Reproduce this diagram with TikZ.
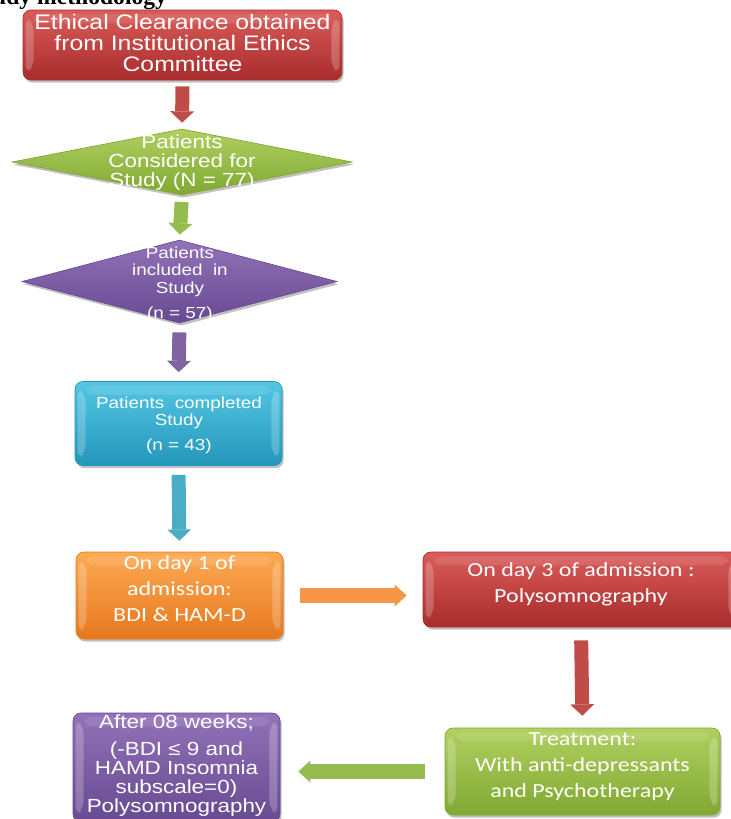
\documentclass[tikz,border=0pt]{standalone}
\usepackage{fontspec}
\newfontfamily\arialf[FakeStretch=1.18]{Liberation Sans}
\newfontfamily\calf[FakeStretch=1.2]{Carlito}
\newfontfamily\headf{Liberation Serif}
\usetikzlibrary{shapes.geometric,arrows.meta,shadows,calc}

\definecolor{redL}{RGB}{218,92,90}
\definecolor{redD}{RGB}{168,44,44}
\definecolor{redA}{RGB}{192,76,74}
\definecolor{grnL}{RGB}{176,208,96}
\definecolor{grnD}{RGB}{128,168,50}
\definecolor{grnA}{RGB}{150,188,80}
\definecolor{purL}{RGB}{146,114,184}
\definecolor{purD}{RGB}{104,74,146}
\definecolor{purA}{RGB}{128,100,162}
\definecolor{cyaL}{RGB}{84,198,228}
\definecolor{cyaD}{RGB}{36,150,186}
\definecolor{cyaA}{RGB}{75,172,198}
\definecolor{orgL}{RGB}{252,170,84}
\definecolor{orgD}{RGB}{230,120,30}
\definecolor{orgA}{RGB}{247,150,70}

\begin{document}
\begin{tikzpicture}[x=0.75pt,y=-0.75pt,
  shd/.style={drop shadow={shadow xshift=1.2pt,shadow yshift=-2pt,opacity=0.35,fill=black!70}},
  bevel/.style={path picture={
     \coordinate (pnw) at (path picture bounding box.north west);
     \coordinate (pse) at (path picture bounding box.south east);
     \fill[white,opacity=0.22] ($(pnw)+(2pt,-5pt)$) -- ($(pnw)+(8pt,-10pt)$)
        -- ($(pnw |- pse)+(8pt,10pt)$) -- ($(pnw |- pse)+(2pt,5pt)$) -- cycle;
     \fill[white,opacity=0.22] ($(pse |- pnw)+(-2pt,-5pt)$) -- ($(pse |- pnw)+(-8pt,-10pt)$)
        -- ($(pse)+(-8pt,10pt)$) -- ($(pse)+(-2pt,5pt)$) -- cycle;
     \fill[white,opacity=0.10] ($(pnw)+(8pt,-3pt)$) -- ($(pse |- pnw)+(-8pt,-3pt)$)
        -- ($(pse |- pnw)+(-8pt,-10pt)$) -- ($(pnw)+(8pt,-10pt)$) -- cycle;}},
  box/.style n args={3}{rectangle, rounded corners=6pt, inner sep=0pt,
     top color=#1, bottom color=#2, draw=#3, line width=0.5pt, shd, bevel},
  dia/.style n args={3}{diamond, inner sep=0pt,
     top color=#1, bottom color=#2, draw=#3, line width=0.5pt, shd},
  txta/.style={text=white, align=center, font=\arialf\fontsize{#1}{#1}\selectfont},
  txtc/.style={text=white, align=center, font=\calf\fontsize{15pt}{19.5pt}\selectfont},
  blk/.style={line width=10.5pt, draw=#1,
     -{Triangle[width=18pt,length=8.5pt,line width=0pt,fill=#1]}},
  blkh/.style={line width=11pt, draw=#1,
     -{Triangle[width=16.5pt,length=9pt,line width=0pt,fill=#1]}}
]
\useasboundingbox (0,0) rectangle (731,819);
\clip (0,0) rectangle (731,819);
\fill[white] (0,0) rectangle (731,819);

% heading (cut off at the top)
\node[anchor=base west, inner sep=0pt, font=\headf\bfseries\fontsize{17.7pt}{20pt}\selectfont] (head) at (-28,4) {Study methodology};

% shapes
\node[box={redL}{redD}{redD}, minimum width=239.25pt, minimum height=52.5pt] (ethics) at (182.5,45) {};
\node[dia={grnL}{grnD}{grnD}, minimum width=255pt, minimum height=49.5pt] (considered) at (182,162) {};
\node[dia={purL}{purD}{purD}, minimum width=236.25pt, minimum height=62.25pt] (included) at (179.5,281.5) {};
\node[box={cyaL}{cyaD}{cyaD}, minimum width=155.25pt, minimum height=63pt] (completed) at (178.5,423.5) {};
\node[box={orgL}{orgD}{orgD}, minimum width=155.25pt, minimum height=65.25pt] (day1) at (179.5,595.5) {};
\node[box={redL}{redD}{redD}, minimum width=237pt, minimum height=56.25pt] (day3) at (581,589.5) {};
\node[box={grnL}{grnD}{grnD}, minimum width=206.25pt, minimum height=65.25pt] (treat) at (582.5,771.5) {};
\node[box={purL}{purD}{purD}, minimum width=155.25pt, minimum height=81.75pt] (after) at (176.5,767.5) {};

% texts
\node[txta={15.75pt}] (ethics-t) at (182.5,42.5) {Ethical Clearance obtained\\from Institutional Ethics\\Committee};
\node[txta={14.25pt}] (considered-t) at (182,162.2) {Patients\\Considered for\\Study (N = 77)};
\node[txta={12pt}, font=\arialf\fontsize{12pt}{13.1pt}\selectfont] (included-t) at (180,284) {Patients\\included\ \ in\\Study\\[5.6pt](n = 57)};
\node[txta={12pt}, font=\arialf\fontsize{12pt}{12.75pt}\selectfont] (completed-t) at (179,425) {Patients\ \ completed\\Study\\[6pt](n = 43)};
\node[txtc] (day1-t) at (179.5,588.5) {On day 1 of\\admission:\\BDI \& HAM-D};
\node[txtc] (day3-t) at (581,584) {On day 3 of admission :\\Polysomnography};
\node[txtc] (treat-t) at (582.5,766.5) {Treatment:\\With anti-depressants\\and Psychotherapy};
\node[txta={14.25pt}, font=\arialf\fontsize{14.25pt}{14.25pt}\selectfont] (after-t) at (176.5,766) {After 08 weeks;\\[6pt](-BDI ≤ 9 and\\HAMD Insomnia\\subscale=0)\\Polysomnography};

% block arrows
\draw[blk=redA, shorten <=4.5pt, shorten >=4.5pt] (ethics.south) -- (considered.north);
\draw[blk=grnA, shorten <=5pt, shorten >=3.8pt] (considered.south) -- (included.north);
\draw[blk=purA, shorten <=6.8pt, shorten >=6.8pt] (included.south) -- (completed.north);
\draw[blk=cyaA, shorten <=6.8pt, shorten >=8.2pt] (completed.south) -- (day1.north);
\draw[blkh=orgA, shorten <=12.8pt, shorten >=12pt] (day1.east) -- (day1.east -| day3.west);
\draw[blk=redA, shorten <=9.8pt, shorten >=9pt] (day3.south) -- (treat.north);
\draw[blkh=grnA, shorten <=15pt, shorten >=13.5pt] (treat.west) -- (treat.west -| after.east);
\end{tikzpicture}
\end{document}
